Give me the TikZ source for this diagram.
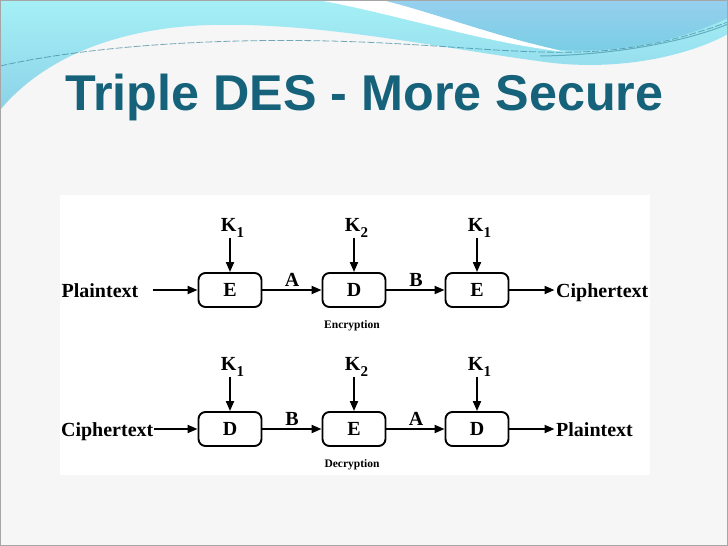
\documentclass[tikz,border=0pt]{standalone}
\usepackage{fontspec}
\setmainfont{Liberation Serif}
\newfontfamily\titlefont{Liberation Sans}
\usetikzlibrary{arrows.meta}
\definecolor{slidebg}{RGB}{246,246,246}
\definecolor{titlecol}{RGB}{22,98,122}
\definecolor{cyantop}{RGB}{165,240,246}
\definecolor{cyanbot}{RGB}{140,210,232}
\definecolor{bluetop}{RGB}{150,208,238}
\definecolor{bluebot}{RGB}{120,205,228}
\definecolor{dashcol}{RGB}{60,135,160}
\tikzset{
  box/.style={draw, line width=1.9pt, rounded corners=7pt, minimum width=63pt, minimum height=34pt, inner sep=0pt, font=\fontsize{20}{20}\selectfont\bfseries},
  lbl/.style={inner sep=0pt, font=\fontsize{20}{20}\selectfont\bfseries},
  keylbl/.style={inner sep=0pt, anchor=south, font=\fontsize{20}{20}\selectfont\bfseries},
  small/.style={inner sep=0pt, font=\fontsize{11.5}{11.5}\selectfont\bfseries},
  arr/.style={line width=1.9pt, -{Triangle[length=10pt,width=8pt]}},
}
\newcommand{\Kone}{K\raisebox{-0.28em}{\fontsize{15}{15}\selectfont 1}}
\newcommand{\Ktwo}{K\raisebox{-0.28em}{\fontsize{15}{15}\selectfont 2}}
\begin{document}
\begin{tikzpicture}[x=1pt,y=-1pt]
\useasboundingbox (0,0) rectangle (728,546);
% slide background
\fill[slidebg] (0,0) rectangle (728,546);
% top waves
\shade[top color=cyantop, bottom color=cyanbot]
  (0,0) -- (0,110) .. controls (40,62) and (110,28) .. (210,25)
  .. controls (320,22) and (440,48) .. (545,62)
  .. controls (620,72) and (690,55) .. (728,34) -- (728,0) -- cycle;
\fill[white] (318,0) .. controls (400,15) and (480,42) .. (565,52)
  .. controls (500,36) and (430,10) .. (388,0) -- cycle;
\shade[top color=bluetop, bottom color=bluebot]
  (382,0) .. controls (432,12) and (500,38) .. (560,50)
  .. controls (630,54) and (690,36) .. (728,18) -- (728,0) -- cycle;
\draw[dashcol, line width=0.8pt, dash pattern=on 7pt off 2pt, opacity=0.7]
  (0,66) .. controls (80,48) and (200,38) .. (330,41)
  .. controls (450,44) and (520,56) .. (600,51)
  .. controls (660,46) and (700,32) .. (728,22);
\draw[dashcol, line width=1pt, opacity=0.6]
  (540,56) .. controls (620,55) and (690,40) .. (728,24);
% slide border
\draw[gray!70, line width=1pt] (0.5,0.5) rectangle (727.5,545.5);
% title
\node[anchor=base west, inner sep=0pt, text=titlecol, font=\titlefont\fontsize{50.3}{50.3}\selectfont\bfseries]
  (title) at (65,110) {Triple DES - More Secure};
% white diagram panel
\fill[white] (60,195) rectangle (650,475);
% ---- Encryption row ----
\node[box] (e1) at (230,290) {E};
\node[box] (d1) at (354,290) {D};
\node[box] (e2) at (477,290) {E};
\node[keylbl] (k11) at (232.5,237.5) {\Kone};
\node[keylbl] (k12) at (356.5,237.5) {\Ktwo};
\node[keylbl] (k13) at (479.5,237.5) {\Kone};
\node[lbl, anchor=base east] (p1) at (138.5,297) {Plaintext};
\node[lbl, anchor=base west] (c1) at (556,297) {Ciphertext};
\node[lbl, anchor=base] (a1) at (292,286) {A};
\node[lbl, anchor=base] (b1) at (416,286) {B};
\node[small] (enc) at (352,326) {Encryption};
\draw[arr] (e1.north |- k11.south) -- (e1.north);
\draw[arr] (d1.north |- k12.south) -- (d1.north);
\draw[arr] (e2.north |- k13.south) -- (e2.north);
\draw[arr, shorten <=14pt] (e1 -| p1.east) -- (e1.west);
\draw[arr] (e1.east) -- (d1.west);
\draw[arr] (d1.east) -- (e2.west);
\draw[arr, shorten >=1.5pt] (e2.east) -- (e2 -| c1.west);
% ---- Decryption row ----
\node[box] (d2) at (230,429) {D};
\node[box] (e3) at (354,429) {E};
\node[box] (d3) at (477,429) {D};
\node[keylbl] (k21) at (232.5,376.5) {\Kone};
\node[keylbl] (k22) at (356.5,376.5) {\Ktwo};
\node[keylbl] (k23) at (479.5,376.5) {\Kone};
\node[lbl, anchor=base east] (c2) at (153.5,436) {Ciphertext};
\node[lbl, anchor=base west] (p2) at (556,436) {Plaintext};
\node[lbl, anchor=base] (b2) at (292,425) {B};
\node[lbl, anchor=base] (a2) at (416,425) {A};
\node[small] (dec) at (352,465) {Decryption};
\draw[arr] (d2.north |- k21.south) -- (d2.north);
\draw[arr] (e3.north |- k22.south) -- (e3.north);
\draw[arr] (d3.north |- k23.south) -- (d3.north);
\draw[arr] (d2 -| c2.east) -- (d2.west);
\draw[arr] (d2.east) -- (e3.west);
\draw[arr] (e3.east) -- (d3.west);
\draw[arr, shorten >=1.5pt] (d3.east) -- (d3 -| p2.west);
\end{tikzpicture}
\end{document}
